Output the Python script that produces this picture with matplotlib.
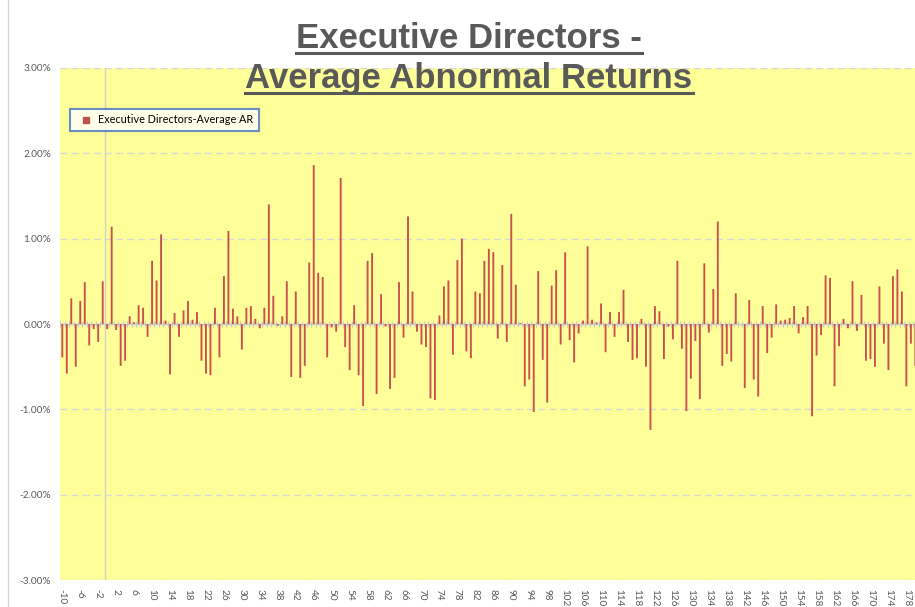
import matplotlib
matplotlib.use("Agg")
import matplotlib.pyplot as plt
import numpy as np
from matplotlib.lines import Line2D
from matplotlib.ticker import FuncFormatter

plt.rcParams['font.family'] = ['Lato', 'DejaVu Sans']

# ---------------- data ----------------
categories = list(range(-10, 181))
avg_ar = [
    -0.39, -0.58, 0.30, -0.50, 0.27, 0.49, -0.25, -0.06, -0.21, 0.50,
    -0.06, 1.14, -0.07, -0.49, -0.43, 0.09, 0.02, 0.22, 0.19, -0.15,
    0.74, 0.51, 1.05, 0.04, -0.59, 0.13, -0.15, 0.16, 0.27, 0.05,
    0.14, -0.43, -0.58, -0.60, 0.19, -0.39, 0.56, 1.09, 0.18, 0.09,
    -0.30, 0.19, 0.21, 0.06, -0.05, 0.19, 1.40, 0.33, -0.02, 0.09,
    0.50, -0.62, 0.38, -0.63, -0.49, 0.72, 1.86, 0.60, 0.55, -0.39,
    -0.04, -0.09, 1.71, -0.27, -0.54, 0.22, -0.60, -0.96, 0.74, 0.83,
    -0.82, 0.35, -0.03, -0.76, -0.63, 0.49, -0.16, 1.26, 0.38, -0.09,
    -0.24, -0.27, -0.87, -0.89, 0.10, 0.44, 0.51, -0.36, 0.75, 1.00,
    -0.32, -0.40, 0.38, 0.36, 0.74, 0.88, 0.84, -0.17, 0.69, -0.21,
    1.29, 0.46, 0.01, -0.73, -0.65, -1.03, 0.62, -0.42, -0.92, 0.45,
    0.63, -0.24, 0.84, -0.19, -0.45, -0.11, 0.04, 0.91, 0.05, 0.02,
    0.24, -0.33, 0.14, -0.15, 0.14, 0.40, -0.21, -0.42, -0.40, 0.06,
    -0.50, -1.24, 0.21, 0.15, -0.41, -0.03, -0.18, 0.74, -0.29, -1.02,
    -0.64, -0.20, -0.88, 0.71, -0.10, 0.41, 1.20, -0.49, -0.35, -0.44,
    0.36, 0.00, -0.75, 0.28, -0.65, -0.85, 0.21, -0.34, -0.16, 0.23,
    0.04, 0.05, 0.07, 0.21, -0.11, 0.08, 0.21, -1.08, -0.37, -0.13,
    0.57, 0.54, -0.73, -0.26, 0.06, -0.05, 0.50, -0.08, 0.34, -0.43,
    -0.41, -0.50, 0.44, -0.23, -0.54, 0.56, 0.64, 0.38, -0.73, -0.23,
    -0.49,
]
series_name = "Executive Directors-Average AR"
title_lines = ["Executive Directors -", "Average Abnormal Returns"]
y_ticks = [-3, -2, -1, 0, 1, 2, 3]
label_step = 4
event_category = 0

# ---------------- figure ----------------
W, H = 915, 607
fig = plt.figure(figsize=(W / 100, H / 100), dpi=100)
fig.patch.set_facecolor("white")

ax_left, ax_right, ax_top, ax_bottom = 60.05, 917.6, 67.8, 580.2
ax = fig.add_axes([ax_left / W, 1 - ax_bottom / H,
                   (ax_right - ax_left) / W, (ax_bottom - ax_top) / H])
ax.set_facecolor("#FFFF99")

x = np.arange(len(categories))
bars = ax.bar(x, avg_ar, width=0.42, color="#C9504D", linewidth=0, zorder=3,
              label=series_name)
for b in bars:
    b.set_snap(False)

ax.set_xlim(-0.5, len(categories) - 0.5)
ax.set_ylim(min(y_ticks), max(y_ticks))
ax.set_yticks(y_ticks)
ax.yaxis.set_major_formatter(FuncFormatter(lambda v, p: f"{v:.2f}%"))
ax.grid(axis="y", color="#D9D9D9", linestyle=(0, (5, 3)), linewidth=1, zorder=0)
ax.set_axisbelow(True)
for s in ax.spines.values():
    s.set_visible(False)
ax.tick_params(axis="y", length=0, pad=6.5, labelsize=7.2, labelcolor="#595959")

ticks = x[::label_step]
ax.set_xticks(ticks)
ax.set_xticklabels([str(categories[i]) for i in ticks], rotation=-90)
ax.tick_params(axis="x", length=0, pad=6, labelsize=7.2, labelcolor="#595959")

# zero axis with category-boundary tick marks
ax.axhline(0, color="#C8C8C8", lw=1, zorder=2)
boundaries = np.arange(len(categories) + 1) - 0.5
ax.vlines(boundaries, -0.035, 0.035, color="#C8C8C8", lw=0.8, zorder=2)

# vertical axis crossing line
ax.axvline(categories.index(event_category) - 0.5, color="#D0D0D0", lw=1, zorder=1)

# legend
handle = Line2D([], [], marker="s", color="#C0504D", linestyle="none", markersize=4.8)
leg = ax.legend([handle], [series_name], loc="upper left",
                bbox_to_anchor=(70 / W, 1 - 109 / H), bbox_transform=fig.transFigure,
                borderaxespad=0, fontsize=7.8, frameon=True, fancybox=False,
                handlelength=2.0, handletextpad=0.1, borderpad=0.5)
leg.get_frame().set_edgecolor("#4472C4")
leg.get_frame().set_linewidth(1.5)
leg.get_frame().set_facecolor("white")
leg.set_zorder(10)

# title (two lines, underlined)
tkw = dict(ha="center", va="baseline", fontsize=25, fontweight="bold",
           color="#595959", family=["Liberation Sans", "DejaVu Sans"])
baselines = [48, 88]
texts = [fig.text(469 / W, 1 - b / H, line, **tkw) for line, b in zip(title_lines, baselines)]
fig.canvas.draw()
r = fig.canvas.get_renderer()
for t, b in zip(texts, baselines):
    bb = t.get_window_extent(r)
    yy = 1 - (b + 4.5) / H
    fig.add_artist(Line2D([bb.x0 / W, bb.x1 / W], [yy, yy], transform=fig.transFigure,
                          color="#595959", lw=2.2))

# chart-area border on the left
fig.add_artist(Line2D([8 / W, 8 / W], [0, 1], transform=fig.transFigure,
                      color="#D9D9D9", lw=1))

fig.savefig("out.png", dpi=100)
